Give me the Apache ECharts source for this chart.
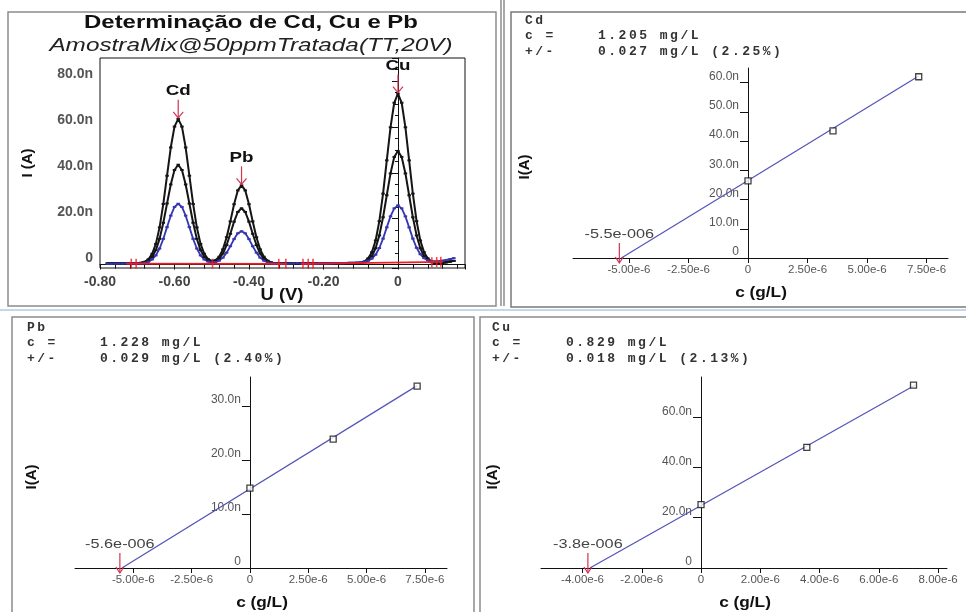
<!DOCTYPE html>
<html lang="pt" style="height: 100%">

<head>
  <meta charset="utf-8">
  <title>Determinação de Cd, Cu e Pb</title>
  <script src="https://cdn.jsdelivr.net/npm/echarts@6/dist/echarts.min.js"></script>
</head>

<body style="height: 100%; margin: 0; background: #fff">
  <div id="chart" style="height: 612px; width: 966px"></div>
  <script type="text/javascript">
    // voltammogram (U in V, I in nA)
    const potential = [-0.78, -0.77, -0.76, -0.75, -0.74, -0.73, -0.72, -0.71, -0.70,
      -0.69, -0.68, -0.67, -0.66, -0.65, -0.64, -0.63, -0.62, -0.61, -0.60,
      -0.59, -0.58, -0.57, -0.56, -0.55, -0.54, -0.53, -0.52, -0.51, -0.50,
      -0.49, -0.48, -0.47, -0.46, -0.45, -0.44, -0.43, -0.42, -0.41, -0.40,
      -0.39, -0.38, -0.37, -0.36, -0.35, -0.34, -0.33,
      -0.32, -0.31, -0.30, -0.29, -0.28, -0.27, -0.26, -0.25, -0.24, -0.23, -0.22,
      -0.21, -0.20, -0.19, -0.18, -0.17, -0.16, -0.15, -0.14, -0.13, -0.12, -0.11,
      -0.10, -0.09, -0.08, -0.07, -0.06, -0.05, -0.04, -0.03, -0.02, -0.01,
      0, 0.01, 0.02, 0.03, 0.04, 0.05, 0.06, 0.07, 0.08, 0.09, 0.10,
      0.11, 0.12, 0.13, 0.14, 0.15];
    const currentAdd2 = [0.5, 0.5, 0.5, 0.5, 0.5, 0.5, 0.5, 0.5, 0.6,
      0.8, 1.2, 2.3, 4.7, 9.0, 16.2, 26.4, 38.7, 51.0, 60.1,
      63.5, 60.1, 51.0, 38.7, 26.4, 16.2, 9.0, 4.7, 2.4, 1.6,
      1.9, 3.4, 6.6, 11.9, 18.8, 26.3, 32.3, 34.5, 32.3, 26.3,
      18.8, 11.9, 6.6, 3.4, 1.7, 0.9, 0.6,
      0.5, 0.5, 0.5, 0.5, 0.5, 0.5, 0.5, 0.5, 0.5, 0.5, 0.5,
      0.5, 0.5, 0.5, 0.5, 0.5, 0.5, 0.5, 0.5, 0.5, 0.5, 0.5,
      0.8, 1.3, 2.7, 5.4, 10.5, 18.9, 30.9, 45.4, 59.8, 70.5,
      74.5, 70.5, 59.8, 45.4, 30.9, 18.9, 10.5, 5.4, 2.7, 1.3, 0.8,
      0.7, 0.8, 1.0, 1.3, 1.6];
    const currentAdd1 = [0.5, 0.5, 0.5, 0.5, 0.5, 0.5, 0.5, 0.5, 0.6,
      0.7, 1.0, 1.8, 3.3, 6.3, 11.2, 18.2, 26.6, 34.9, 41.2,
      43.5, 41.2, 34.9, 26.6, 18.2, 11.2, 6.3, 3.3, 1.8, 1.3,
      1.5, 2.5, 4.8, 8.5, 13.4, 18.7, 22.9, 24.5, 22.9, 18.7,
      13.4, 8.5, 4.8, 2.5, 1.3, 0.8, 0.6,
      0.5, 0.5, 0.5, 0.5, 0.5, 0.5, 0.5, 0.5, 0.5, 0.5, 0.5,
      0.5, 0.5, 0.5, 0.5, 0.5, 0.5, 0.5, 0.5, 0.5, 0.5, 0.5,
      0.7, 1.0, 1.9, 3.7, 7.1, 12.7, 20.6, 30.2, 39.7, 46.9,
      49.5, 46.9, 39.7, 30.2, 20.6, 12.7, 7.1, 3.7, 1.9, 1.0, 0.7,
      0.7, 0.8, 1.0, 1.3, 1.6];
    const currentSample = [0.3, 0.3, 0.4, 0.4, 0.4, 0.5, 0.5, 0.5, 0.6,
      0.6, 0.8, 1.2, 2.2, 4.0, 7.0, 11.2, 16.3, 21.3, 25.1,
      26.5, 25.1, 21.3, 16.3, 11.2, 7.0, 4.0, 2.2, 1.3, 1.0,
      1.1, 1.7, 3.0, 5.2, 8.0, 11.1, 13.6, 14.5, 13.6, 11.1,
      8.0, 5.2, 3.0, 1.7, 1.0, 0.7, 0.6,
      0.5, 0.5, 0.4, 0.4, 0.5, 0.6, 0.5, 0.5, 0.4, 0.5, 0.5,
      0.6, 0.6, 0.5, 0.6, 0.7, 0.7, 0.6, 0.7, 0.8, 0.8, 0.9,
      1.0, 1.3, 1.7, 2.6, 4.3, 7.2, 11.3, 16.2, 21.0, 24.5,
      25.8, 24.5, 21.0, 16.2, 11.3, 7.3, 4.5, 2.8, 1.9, 1.5, 1.4,
      1.5, 1.7, 2.0, 2.4, 2.8];
    const baselineCdPb = [[-0.73, 0.4], [-0.30, 0.3]];
    const baselineCu = [[-0.26, 0.3], [0.12, 1.2]];
    const baselineMarkU = [-0.716, -0.703, -0.498, -0.320, -0.301, -0.255, -0.241, -0.228, 0.091, 0.104, 0.115];
    const baselineMarkI = [0.4, 0.4, 0.35, 0.3, 0.3, 0.3, 0.3, 0.35, 1.0, 1.1, 1.2];
    const peakNames = ['Cd', 'Pb', 'Cu'];
    const peakU = [-0.59, -0.42, 0.0];
    const peakI = [63.5, 34.5, 74.5];
    const voltTicksU = [-0.8, -0.6, -0.4, -0.2, 0];
    const voltTicksI = [0, 20, 40, 60, 80];

    // standard addition (c in 1e-6 g/L, I in nA)
    const addConc = [0, 3.57, 7.17];
    const cdCurrent = [26.4, 43.5, 62.0];
    const pbCurrent = [14.8, 23.9, 33.7];
    const cuCurrent = [25.2, 48.0, 72.8];
    const cdFit = [[-5.32, 0], [7.17, 62.3]];
    const pbFit = [[-5.49, 0], [7.17, 33.8]];
    const cuFit = [[-3.75, 0], [7.23, 72.8]];
    const cdIntercept = '-5.5e-006';
    const pbIntercept = '-5.6e-006';
    const cuIntercept = '-3.8e-006';
    const cdTicksC = [-5, -2.5, 0, 2.5, 5, 7.5];
    const pbTicksC = [-5, -2.5, 0, 2.5, 5, 7.5];
    const cuTicksC = [-4, -2, 0, 2, 4, 6, 8];
    const cdTicksI = [0, 10, 20, 30, 40, 50, 60];
    const pbTicksI = [0, 10, 20, 30];
    const cuTicksI = [0, 20, 40, 60];
    const cdResult = ['Cd', '1.205 mg/L', '0.027 mg/L (2.25%)'];
    const pbResult = ['Pb', '1.228 mg/L', '0.029 mg/L (2.40%)'];
    const cuResult = ['Cu', '0.829 mg/L', '0.018 mg/L (2.13%)'];

    const SANS = '"Liberation Sans", Arial, sans-serif';
    const MONO = '"Liberation Mono", "Courier New", monospace';
    const RED = '#d23250';

    // calibration plot areas: [left, top, width, height, cMin, cMax, iMax]
    const calBox = [
      [573, 68, 375, 190, -7.35, 8.4, 65],
      [75, 377, 372, 191, -7.5, 8.45, 35.4],
      [541, 377, 406, 191, -5.4, 8.3, 76]
    ];

    const chart = echarts.init(document.getElementById('chart'));

    function txt(text, x, y, font, extra) {
      extra = extra || {};
      return {
        type: 'text', x: x, y: y, silent: true,
        rotation: extra.rotation || 0, scaleX: extra.scaleX || 1,
        style: {
          text: text, font: font, fill: extra.fill || '#111',
          align: extra.align || 'center', verticalAlign: 'middle',
          textAlign: extra.align || 'center', textVerticalAlign: 'middle'
        }
      };
    }

    // fixed-pitch line, one glyph per cell
    function monoLine(str, x, y) {
      return str.split('').map((ch, i) => txt(ch, x + i * 10.3, y, 'bold 13px ' + MONO, { fill: '#333', align: 'left' }));
    }

    function frame(x1, y1, x2, y2, color) {
      return { type: 'rect', silent: true, shape: { x: x1, y: y1, width: x2 - x1, height: y2 - y1 }, style: { fill: null, stroke: color || '#8c8c8c', lineWidth: 1.5 } };
    }

    function vline(x, y1, y2, color) {
      return { type: 'line', silent: true, shape: { x1: x, y1: y1, x2: x, y2: y2 }, style: { stroke: color || '#8c8c8c', lineWidth: 1.5 } };
    }

    function hline(y, x1, x2, color, w) {
      return { type: 'line', silent: true, shape: { x1: x1, y1: y, x2: x2, y2: y }, style: { stroke: color, lineWidth: w || 1.5 } };
    }

    function resultText(res, x, xv, y) {
      return [].concat(
        monoLine(res[0], x, y),
        monoLine('c =', x, y + 15),
        monoLine(res[1], xv, y + 15),
        monoLine('+/-', x, y + 31),
        monoLine(res[2], xv, y + 31)
      );
    }

    function calXAxis(idx, ticks) {
      const b = calBox[idx - 1];
      return {
        type: 'value', gridIndex: idx, min: b[4], max: b[5],
        axisLine: { onZero: false, lineStyle: { color: '#111', width: 1 } },
        axisTick: { show: true, length: 5, customValues: ticks, lineStyle: { color: '#111' } },
        axisLabel: {
          customValues: ticks, margin: 6, color: '#555', fontSize: 11.5, fontFamily: SANS,
          formatter: v => v === 0 ? '0' : v.toFixed(2) + 'e-6'
        },
        splitLine: { show: false }
      };
    }

    // y axis drawn through c = 0: shift it into the plot by the zero position
    function calYAxis(idx, ticks) {
      const b = calBox[idx - 1];
      const zeroShift = b[2] * (-b[4]) / (b[5] - b[4]);
      return {
        type: 'value', gridIndex: idx, min: 0, max: b[6], offset: -zeroShift,
        axisLine: { onZero: false, lineStyle: { color: '#111', width: 1 } },
        axisTick: { show: true, length: 8, customValues: ticks, lineStyle: { color: '#111' } },
        axisLabel: {
          customValues: ticks, margin: 9, color: '#555', fontSize: 12, fontFamily: SANS,
          verticalAlign: 'bottom', lineHeight: 12,
          formatter: v => v === 0 ? '0' : v.toFixed(1) + 'n'
        },
        splitLine: { show: false }
      };
    }

    function interceptArrow(idx, fit, label) {
      return {
        type: 'custom', xAxisIndex: idx, yAxisIndex: idx, silent: true, z: 5,
        data: [fit[0]],
        renderItem: (params, api) => {
          const p = api.coord([api.value(0), 0]);
          const st = { stroke: RED, lineWidth: 1.2, fill: null };
          return {
            type: 'group', x: p[0] - 2, y: p[1], children: [
              { type: 'polyline', shape: { points: [[0, -15], [0, 5]] }, style: st },
              { type: 'polyline', shape: { points: [[-4, -1], [0, 5], [4, -1]] }, style: st },
              { type: 'text', x: 0, y: -24, scaleX: 1.25, style: { text: label, font: '13px ' + SANS, fill: '#444', align: 'center', verticalAlign: 'middle' } }
            ]
          };
        }
      };
    }

    function fitSeries(idx, fit) {
      return {
        type: 'line', xAxisIndex: idx, yAxisIndex: idx, data: fit, showSymbol: false,
        lineStyle: { color: '#5454b8', width: 1.2 }, z: 3
      };
    }

    function pointSeries(idx, current) {
      return {
        type: 'scatter', xAxisIndex: idx, yAxisIndex: idx,
        data: addConc.map((c, i) => [c, current[i]]),
        symbol: 'rect', symbolSize: 6,
        itemStyle: { color: '#fff', borderColor: '#111', borderWidth: 1.3 }, z: 4
      };
    }

    function curveSeries(arr, color, width) {
      return {
        type: 'line', xAxisIndex: 0, yAxisIndex: 0,
        data: potential.map((u, i) => [u, arr[i]]),
        symbol: 'rect', symbolSize: [3.5, 2], showSymbol: true,
        itemStyle: { color: color }, lineStyle: { color: color, width: width }
      };
    }

    const option = {
      animation: false,
      backgroundColor: '#fff',
      grid: [
        { left: 100, top: 58, width: 365, height: 210, show: true, borderColor: '#111', borderWidth: 1 }
      ].concat(calBox.map(b => ({ left: b[0], top: b[1], width: b[2], height: b[3] }))),
      xAxis: [
        {
          type: 'value', gridIndex: 0, min: -0.8, max: 0.18, interval: 0.2,
          axisLine: { lineStyle: { color: '#111' } },
          axisTick: { length: 5, lineStyle: { color: '#111' } },
          minorTick: { show: true, splitNumber: 5, length: 4, lineStyle: { color: '#111' } },
          axisLabel: {
            customValues: voltTicksU, margin: 7, color: '#444', fontSize: 14, fontWeight: 'bold', fontFamily: SANS,
            formatter: v => v === 0 ? '0' : v.toFixed(2)
          },
          splitLine: { show: false }
        },
        calXAxis(1, cdTicksC),
        calXAxis(2, pbTicksC),
        calXAxis(3, cuTicksC)
      ],
      yAxis: [
        {
          type: 'value', gridIndex: 0, min: -1.5, max: 90,
          axisLine: { lineStyle: { color: '#111' } },
          axisTick: { length: 6, lineStyle: { color: '#111' } },
          minorTick: { show: true, splitNumber: 4, length: 3, lineStyle: { color: '#111' } },
          axisLabel: {
            customValues: voltTicksI, margin: 7, color: '#555', fontSize: 14, fontWeight: 'bold', fontFamily: SANS,
            verticalAlign: 'bottom', lineHeight: 13,
            formatter: v => v === 0 ? '0' : v.toFixed(1) + 'n'
          },
          splitLine: { show: false }
        },
        calYAxis(1, cdTicksI),
        calYAxis(2, pbTicksI),
        calYAxis(3, cuTicksI)
      ],
      series: [
        curveSeries(currentAdd2, '#151515', 2),
        curveSeries(currentAdd1, '#151515', 2),
        curveSeries(currentSample, '#3636b4', 1.8),
        {
          type: 'line', xAxisIndex: 0, yAxisIndex: 0, data: baselineCdPb, showSymbol: false,
          lineStyle: { color: '#ee1c25', width: 1.8 }, z: 4
        },
        {
          type: 'line', xAxisIndex: 0, yAxisIndex: 0, data: baselineCu, showSymbol: false,
          lineStyle: { color: '#ee1c25', width: 1.8 }, z: 4
        },
        {
          type: 'scatter', xAxisIndex: 0, yAxisIndex: 0,
          data: baselineMarkU.map((u, i) => [u, baselineMarkI[i]]),
          symbol: 'rect', symbolSize: [1.6, 10], itemStyle: { color: '#ee1c25' }, z: 5
        },
        {
          type: 'custom', xAxisIndex: 0, yAxisIndex: 0, silent: true, z: 6,
          data: peakU.map((u, i) => [u, peakI[i]]),
          renderItem: (params, api) => {
            const p = api.coord([api.value(0), api.value(1)]);
            const st = { stroke: RED, lineWidth: 1.2, fill: null };
            return {
              type: 'group', x: p[0], y: p[1], children: [
                { type: 'polyline', shape: { points: [[0, -19], [0, -1]] }, style: st },
                { type: 'polyline', shape: { points: [[-5, -7], [0, -1], [5, -7]] }, style: st },
                { type: 'text', x: 0, y: -28, scaleX: 1.25, style: { text: peakNames[params.dataIndex], font: 'bold 15px ' + SANS, fill: '#111', align: 'center', verticalAlign: 'middle' } }
              ]
            };
          }
        },
        fitSeries(1, cdFit), pointSeries(1, cdCurrent), interceptArrow(1, cdFit, cdIntercept),
        fitSeries(2, pbFit), pointSeries(2, pbCurrent), interceptArrow(2, pbFit, pbIntercept),
        fitSeries(3, cuFit), pointSeries(3, cuCurrent), interceptArrow(3, cuFit, cuIntercept)
      ],
      graphic: [].concat(
        [
          frame(8, 12, 496, 306),
          vline(501, 0, 306), vline(504, 0, 306),
          frame(511, 12, 980, 307, '#7a7a7a'),
          hline(310, 0, 966, '#c6d6ec', 2),
          frame(12, 317, 474, 630),
          frame(480, 317, 980, 630),
          txt('Determinação de Cd, Cu e Pb', 251, 23, 'bold 18px ' + SANS, { scaleX: 1.33 }),
          txt('AmostraMix@50ppmTratada(TT,20V)', 251, 46, 'italic 17.5px ' + SANS, { scaleX: 1.39, fill: '#222' }),
          txt('I (A)', 28, 163, 'bold 15px ' + SANS, { rotation: Math.PI / 2 }),
          txt('U (V)', 282, 296, 'bold 16px ' + SANS, { scaleX: 1.15 }),
          txt('I(A)', 525, 167, 'bold 15px ' + SANS, { rotation: Math.PI / 2 }),
          txt('c (g/L)', 761, 293, 'bold 15px ' + SANS, { scaleX: 1.15 }),
          txt('I(A)', 32, 477, 'bold 15px ' + SANS, { rotation: Math.PI / 2 }),
          txt('c (g/L)', 262, 603, 'bold 15px ' + SANS, { scaleX: 1.15 }),
          txt('I(A)', 493, 477, 'bold 15px ' + SANS, { rotation: Math.PI / 2 }),
          txt('c (g/L)', 745, 603, 'bold 15px ' + SANS, { scaleX: 1.15 })
        ],
        resultText(cdResult, 525, 598, 21),
        resultText(pbResult, 27, 100, 328),
        resultText(cuResult, 492, 566, 328)
      )
    };
    chart.setOption(option);
  </script>
</body>

</html>
